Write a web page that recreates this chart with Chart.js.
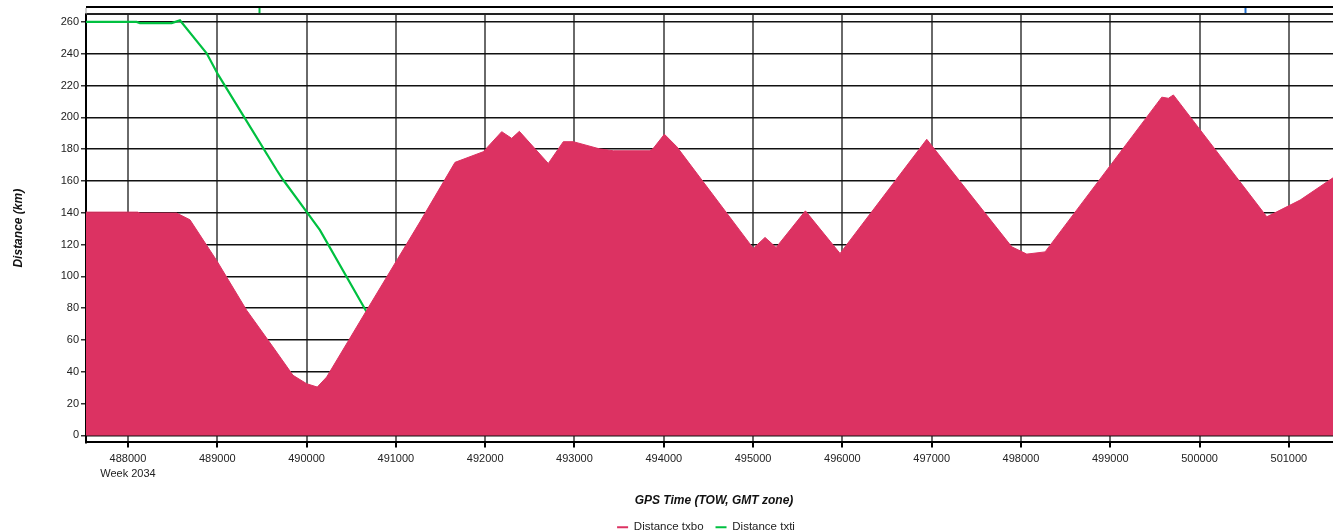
<!DOCTYPE html>
<html>
<head>
<meta charset="utf-8">
<script src="https://cdn.jsdelivr.net/npm/chart.js@4"></script>
<style>
  html, body { margin: 0; padding: 0; background: #fff; overflow: hidden; }
  #wrap { position: relative; width: 1420px; height: 531px; }
</style>
</head>
<body>
<div id="wrap"><canvas id="c" width="1420" height="531"></canvas></div>
<script>
// GPS time of week (s) and distance (km) for each series
const txboTimes = [487530, 488109, 488134, 488545, 488694, 488993, 489329, 489624, 489848, 490001, 490120, 490225, 490673, 491009, 491270, 491662, 491979, 492185, 492297, 492383, 492707, 492875, 492987, 493286, 493435, 493846, 493883, 494007, 494145, 495003, 495134, 495258, 495586, 495974, 496945, 497897, 498065, 498270, 499577, 499651, 499707, 500753, 500865, 501126, 501600];
const txboDist  = [140.4, 140.4, 139.8, 139.8, 135.6, 110, 78.7, 55.6, 37.8, 32.5, 30.4, 36.7, 78.7, 110, 134.3, 171.7, 178.4, 191, 186.8, 191.2, 171, 184.7, 184.7, 180.1, 179, 179, 180.5, 189.4, 181.6, 117.6, 124.5, 118.2, 141.2, 114.4, 186.2, 118.6, 114, 115.4, 212.7, 212, 214.1, 137.5, 140.6, 148, 166];
const txtiTimes = [487530, 488097, 488134, 488489, 488582, 488881, 489011, 489310, 489665, 489739, 490001, 490150, 490673];
const txtiDist  = [260, 260, 259.3, 259.3, 261, 240.3, 226.7, 199.4, 166.9, 160.6, 140.6, 129.1, 77.6];
const seriesNames = ['Distance txbo', 'Distance txti'];
const xTickValues = [488000, 489000, 490000, 491000, 492000, 493000, 494000, 495000, 496000, 497000, 498000, 499000, 500000, 501000];
const weekLabel = 'Week 2034';
const xRange = [487530, 501595];
const yRange = [-4.4, 265];
const overviewMarkers = [489467, 500508];

const RED = '#DC3262';
const GREEN = '#00C040';
const markerColors = [GREEN, '#1E6FD0'];
const FONT = 'Liberation Sans, Arial, sans-serif';

const toPts = (xs, ys) => xs.map((x, i) => ({ x: x, y: ys[i] }));

const overviewStrip = {
  id: 'overviewStrip',
  afterLayout(chart) {
    // centre the legend under the plot area
    if (chart.legend) {
      chart.legend.left = chart.chartArea.left - 8;
      chart.legend.right = chart.chartArea.right - 8;
    }
  },
  afterDraw(chart) {
    const { ctx, chartArea } = chart;
    const xs = chart.scales.x;
    const top = chartArea.top - 7;
    ctx.save();
    ctx.strokeStyle = '#000';
    ctx.lineWidth = 2;
    ctx.beginPath();
    ctx.moveTo(chartArea.left, top); ctx.lineTo(chartArea.right, top);
    ctx.stroke();
    ctx.strokeStyle = '#222';
    ctx.beginPath();
    ctx.moveTo(chartArea.left, chartArea.top); ctx.lineTo(chartArea.right, chartArea.top);
    ctx.stroke();
    ctx.strokeStyle = '#999';
    ctx.lineWidth = 1;
    ctx.beginPath();
    ctx.moveTo(chartArea.left, top + 1); ctx.lineTo(chartArea.left, chartArea.top);
    ctx.stroke();
    overviewMarkers.forEach((v, i) => {
      const px = Math.round(xs.getPixelForValue(v)) + 0.5;
      ctx.strokeStyle = markerColors[i];
      ctx.lineWidth = 2;
      ctx.beginPath();
      ctx.moveTo(px, top + 1); ctx.lineTo(px, chartArea.top - 1);
      ctx.stroke();
    });
    ctx.restore();
  }
};

new Chart(document.getElementById('c'), {
  type: 'line',
  data: {
    datasets: [
      {
        label: seriesNames[0],
        data: toPts(txboTimes, txboDist),
        borderColor: RED,
        backgroundColor: RED,
        borderWidth: 1,
        fill: 'origin',
        pointRadius: 0,
        tension: 0
      },
      {
        label: seriesNames[1],
        data: toPts(txtiTimes, txtiDist),
        borderColor: GREEN,
        backgroundColor: GREEN,
        borderWidth: 2.2,
        fill: false,
        pointRadius: 0,
        tension: 0
      }
    ]
  },
  options: {
    responsive: false,
    animation: false,
    devicePixelRatio: 1,
    layout: { padding: { top: 14, left: 0, right: 78, bottom: -12 } },
    plugins: {
      tooltip: { enabled: false },
      legend: {
        position: 'bottom',
        labels: {
          boxWidth: 11,
          boxHeight: 2,
          padding: 12,
          color: '#222',
          font: { family: FONT, size: 11.5 },
          generateLabels(chart) {
            const items = Chart.defaults.plugins.legend.labels.generateLabels(chart);
            items.forEach(it => { it.lineWidth = 0; it.strokeStyle = it.fillStyle; });
            return items;
          }
        }
      }
    },
    scales: {
      x: {
        type: 'linear',
        min: xRange[0],
        max: xRange[1],
        afterBuildTicks(scale) { scale.ticks = xTickValues.map(v => ({ value: v })); },
        border: { display: true, color: '#000', width: 2 },
        grid: { color: '#6a6a6a', lineWidth: 2, tickLength: 5, tickColor: '#000' },
        ticks: {
          autoSkip: false,
          maxRotation: 0,
          padding: 4,
          color: '#222',
          font: { family: FONT, size: 11, lineHeight: 1.35 },
          callback(v, i) { return i === 0 ? [String(v), weekLabel] : String(v); }
        },
        title: {
          display: true,
          text: 'GPS Time (TOW, GMT zone)',
          color: '#111',
          font: { family: FONT, size: 12, weight: 'bold', style: 'italic' },
          padding: { top: 8, bottom: 2 }
        }
      },
      y: {
        type: 'linear',
        min: yRange[0],
        max: yRange[1],
        afterFit(scale) { scale.width = 86; },
        border: { display: true, color: '#000', width: 2 },
        grid: { color: '#111', lineWidth: 1.5, tickLength: 5, tickColor: '#333' },
        ticks: {
          stepSize: 20,
          includeBounds: false,
          padding: 2,
          color: '#222',
          font: { family: FONT, size: 11 }
        },
        title: {
          display: true,
          text: 'Distance (km)',
          color: '#111',
          font: { family: FONT, size: 12, weight: 'bold', style: 'italic' },
          padding: { top: 11, bottom: 0 }
        }
      }
    }
  },
  plugins: [overviewStrip]
});
</script>
</body>
</html>
